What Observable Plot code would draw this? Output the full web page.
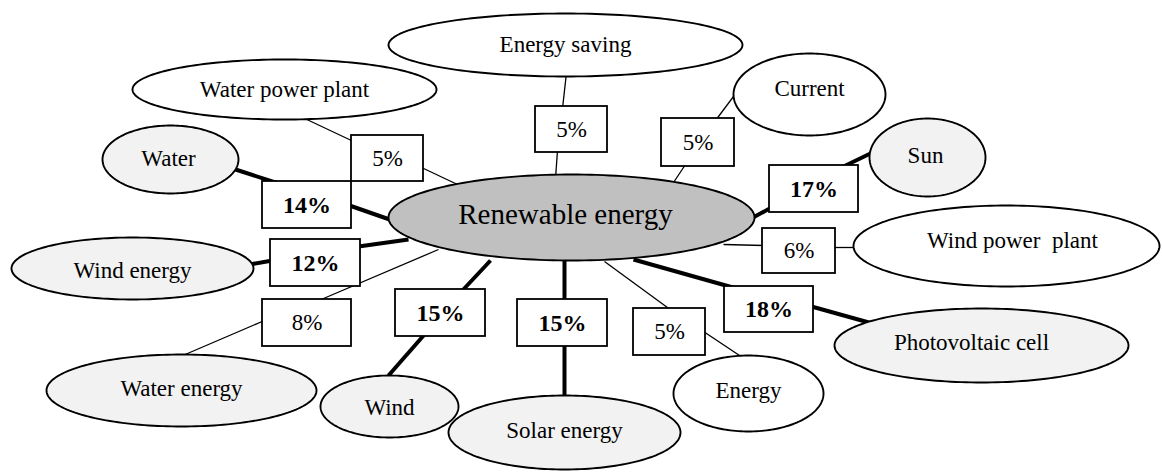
<!DOCTYPE html>
<html>
<head>
<meta charset="utf-8">
<script src="https://cdn.jsdelivr.net/npm/d3@7"></script>
<script src="https://cdn.jsdelivr.net/npm/@observablehq/plot@0.6"></script>
<style>
  html, body { margin: 0; padding: 0; background: #fff; }
  #chart svg { display: block; font-family: "Liberation Serif", "Times New Roman", serif; }
</style>
</head>
<body>
<div id="chart"></div>
<script>
// ---- data ----
const centerLabel = "Renewable energy";
const nodeLabels = ["Energy saving", "Water power plant", "Current", "Water", "Sun", "Wind energy",
  "Wind power  plant", "Water energy", "Wind", "Solar energy", "Energy", "Photovoltaic cell"];
const shares = [5, 5, 5, 14, 17, 12, 6, 8, 15, 15, 5, 18];
const strongLink = [false, false, false, true, true, true, false, false, true, true, false, true];
const shadedNode = [false, false, false, true, true, true, false, true, true, true, false, true];

// ---- layout (diagram geometry, pixel space) ----
const centerShape = {cx: 571, cy: 217, rx: 183, ry: 43};
const nodeShape = [ // cx, cy, rx, ry, label x, label y
  [565, 44.5, 177, 31.5, 565, 44],
  [284, 89, 152, 30, 284, 89],
  [809, 94, 76, 41, 809, 88],
  [170, 159, 68, 34, 168, 158],
  [927, 157, 58, 39, 925, 155],
  [132, 268, 121, 31, 132, 270],
  [1006, 245.5, 153, 40.5, 1012, 240],
  [181, 390, 135, 36, 181, 388],
  [389, 406, 69, 31, 389, 407],
  [564, 432, 116, 37, 564, 430],
  [748, 393, 75, 38, 748, 390],
  [981, 345, 147, 37, 971, 342]
];
const boxShape = [ // x1, x2, y1, y2
  [535, 607, 106, 152],
  [351, 423, 135, 181],
  [661, 734, 118, 166],
  [262, 351, 181, 228],
  [769, 858, 165, 212],
  [270, 360, 239, 286],
  [762, 835, 228, 273],
  [262, 351, 299, 346],
  [395, 485, 289, 336],
  [517, 607, 299, 346],
  [633, 705, 308, 355],
  [724, 813, 286, 332]
];
const linkShape = [ // node-side segment [x1,y1,x2,y2], center-side segment [x1,y1,x2,y2]
  [[566, 72, 562, 108], [557, 150, 555, 178]],
  [[300, 116, 353, 141], [421, 167, 457, 184]],
  [[736, 92, 715, 120], [685, 164, 671, 185]],
  [[232, 168, 278, 183], [349, 205, 392, 220]],
  [[874, 151, 841, 167], [771, 207, 749, 219]],
  [[249, 264, 272, 260], [358, 246, 408, 239]],
  [[723, 244, 764, 245], [833, 247, 855, 247]],
  [[438, 249, 316, 301], [264, 320, 180, 356]],
  [[490, 260, 461, 291], [424, 334, 388, 375]],
  [[564, 258, 564, 301], [564, 344, 564, 397]],
  [[604, 261, 671, 310], [703, 331, 742, 357]],
  [[633, 259, 736, 288], [811, 306, 872, 323]]
];

// ---- derived tables ----
const items = nodeLabels.map((label, i) => ({
  label, share: shares[i], strong: strongLink[i], shaded: shadedNode[i],
  cx: nodeShape[i][0], cy: nodeShape[i][1], rx: nodeShape[i][2], ry: nodeShape[i][3],
  lx: nodeShape[i][4], ly: nodeShape[i][5],
  bx1: boxShape[i][0], bx2: boxShape[i][1], by1: boxShape[i][2], by2: boxShape[i][3]
}));
const segments = items.flatMap((d, i) => linkShape[i].map(s => ({
  x1: s[0], y1: s[1], x2: s[2], y2: s[3], strong: d.strong
})));
function outline(e) {
  return d3.range(0, 180).map(k => {
    const t = (k / 180) * 2 * Math.PI;
    return {x: e.cx + e.rx * Math.cos(t), y: e.cy + e.ry * Math.sin(t)};
  });
}

const marks = [];
marks.push(Plot.link(segments.filter(d => !d.strong), {x1: "x1", y1: "y1", x2: "x2", y2: "y2", stroke: "black", strokeWidth: 1.3}));
marks.push(Plot.link(segments.filter(d => d.strong), {x1: "x1", y1: "y1", x2: "x2", y2: "y2", stroke: "black", strokeWidth: 4}));
marks.push(Plot.line(outline(centerShape), {x: "x", y: "y", curve: "linear-closed", fill: "#c0c0c0", stroke: "black", strokeWidth: 1.9}));
items.forEach(d => {
  marks.push(Plot.line(outline(d), {x: "x", y: "y", curve: "linear-closed", fill: d.shaded ? "#f2f2f2" : "white", stroke: "black", strokeWidth: 1.9}));
});
marks.push(Plot.rect(items, {x1: "bx1", x2: "bx2", y1: "by1", y2: "by2", fill: "white", stroke: "black", strokeWidth: 1.8}));
marks.push(Plot.text([centerLabel], {x: () => centerShape.cx - 6, y: () => centerShape.cy - 3, text: d => d, fontSize: 29, fill: "black"}));
marks.push(Plot.text(items, {x: "lx", y: "ly", text: "label", fontSize: 23, fill: "black"}));
marks.push(Plot.text(items.filter(d => !d.strong), {x: d => (d.bx1 + d.bx2) / 2, y: d => (d.by1 + d.by2) / 2, text: d => d.share + "%", fontSize: 23, fill: "black"}));
marks.push(Plot.text(items.filter(d => d.strong), {x: d => (d.bx1 + d.bx2) / 2, y: d => (d.by1 + d.by2) / 2, text: d => d.share + "%", fontSize: 24, fontWeight: "bold", fill: "black"}));

const chart = Plot.plot({
  width: 1162,
  height: 475,
  margin: 0,
  x: {domain: [0, 1162], range: [0, 1162], axis: null},
  y: {domain: [0, 475], range: [0, 475], axis: null},
  style: {fontFamily: "'Liberation Serif', 'Times New Roman', serif", background: "white"},
  marks
});
document.getElementById("chart").appendChild(chart);
</script>
</body>
</html>
